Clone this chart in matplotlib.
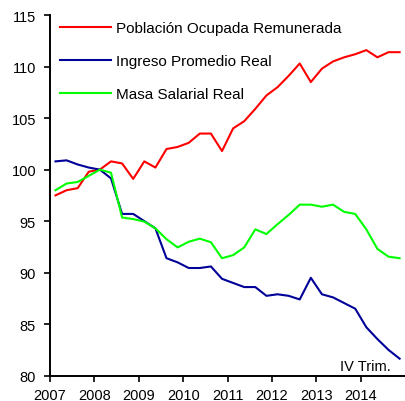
import numpy as np
import matplotlib
matplotlib.use('Agg')
import matplotlib.pyplot as plt

plt.rcParams['font.family'] = ['Liberation Sans', 'DejaVu Sans']

# trimestres 2007-I a 2014-IV
quarters = 2007 + 0.125 + 0.25 * np.arange(32)

poblacion = [97.5, 98.0, 98.2, 99.8, 100.0, 100.8, 100.6, 99.1,
             100.8, 100.2, 102.0, 102.2, 102.6, 103.5, 103.5, 101.8,
             104.0, 104.7, 105.9, 107.2, 108.0, 109.1, 110.3, 108.5,
             109.8, 110.5, 110.9, 111.2, 111.6, 110.9, 111.4, 111.4]
ingreso = [100.8, 100.9, 100.5, 100.2, 100.0, 99.15, 95.7, 95.7,
           95.0, 94.3, 91.4, 91.0, 90.45, 90.45, 90.6, 89.4,
           89.0, 88.6, 88.6, 87.75, 87.9, 87.75, 87.4, 89.5,
           87.9, 87.6, 87.05, 86.5, 84.7, 83.55, 82.5, 81.65]
masa = [98.0, 98.65, 98.8, 99.4, 100.0, 99.7, 95.35, 95.2,
        94.95, 94.3, 93.25, 92.45, 93.0, 93.3, 92.95, 91.4,
        91.7, 92.45, 94.2, 93.75, 94.7, 95.6, 96.6, 96.6,
        96.4, 96.6, 95.9, 95.7, 94.2, 92.3, 91.55, 91.4]

labels = ['Población Ocupada Remunerada', 'Ingreso Promedio Real', 'Masa Salarial Real']
colors = ['#ff0000', '#000099', '#00ff00']
years = list(range(2007, 2015))

fig = plt.figure(figsize=(4.06, 4.02), dpi=100)
ax = fig.add_axes([0.123, 0.063, 0.875, 0.897])

for serie, lab, col in zip([poblacion, ingreso, masa], labels, colors):
    ax.plot(quarters, serie, color=col, lw=1.5, label=lab)

ax.set_xlim(2007, 2015)
ax.set_ylim(80, 115)
ax.set_xticks(years)
ax.set_xticklabels([str(y) for y in years])
ax.set_yticks(range(80, 116, 5))
ax.tick_params(labelsize=10.5, length=4, width=1.2, direction='out', colors='black')
ax.tick_params(axis='y', pad=6)
ax.tick_params(axis='x', pad=5)
ax.spines['top'].set_visible(False)
ax.spines['right'].set_visible(False)
for s in ['left', 'bottom']:
    ax.spines[s].set_linewidth(1.4)

ax.legend(loc='upper left', bbox_to_anchor=(0.028, 0.984), frameon=False,
          fontsize=11, handlelength=3.35, handletextpad=0.35, labelspacing=1.25,
          borderpad=0, borderaxespad=0)

ax.text(0.958, 0.008, 'IV Trim.', transform=ax.transAxes, ha='right', va='bottom', fontsize=10.5)

fig.savefig('out.png', dpi=100)
